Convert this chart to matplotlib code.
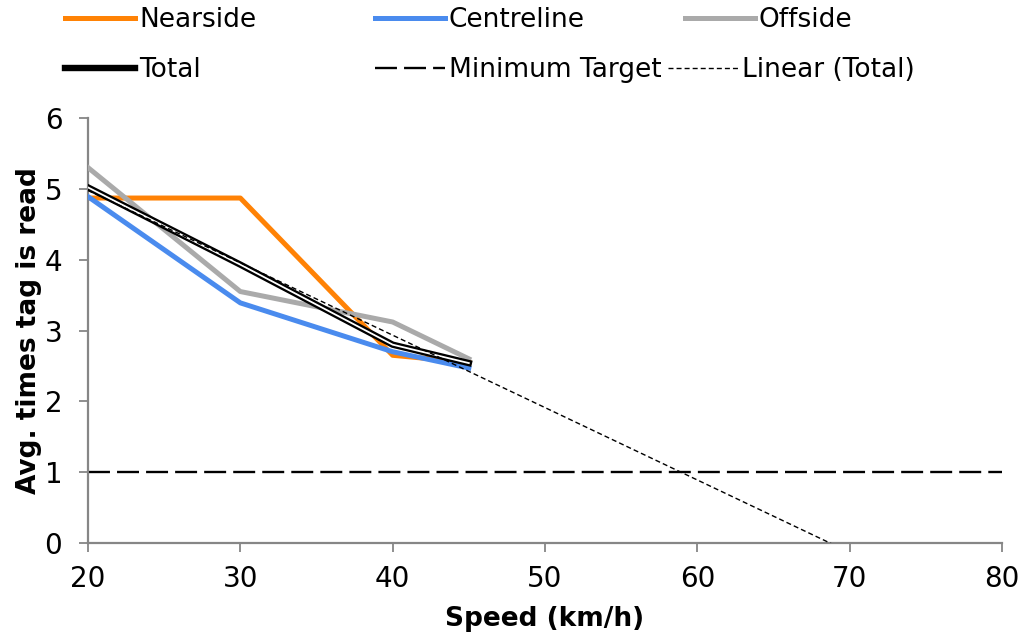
import numpy as np
import matplotlib
matplotlib.use('Agg')
import matplotlib.pyplot as plt
import matplotlib.patheffects as pe
from matplotlib.lines import Line2D

# Data
speeds = [20, 30, 40, 45]
nearside = [4.87, 4.87, 2.65, 2.55]
centreline = [4.89, 3.39, 2.70, 2.47]
offside = [5.30, 3.55, 3.12, 2.60]
total = [5.02, 3.93, 2.80, 2.54]
minimum_target = 1

x_ticks = [20, 30, 40, 50, 60, 70, 80]
y_ticks = [0, 1, 2, 3, 4, 5, 6]

ORANGE = '#FF8205'
BLUE = '#4A8BEE'
GREY = '#AAAAAA'
AXIS_GREY = '#868686'
TARGET_DASH = (9.3, 3)
TREND_DASH = (3.6, 2.2)

plt.rcParams['font.family'] = ['DejaVu Sans']

fig = plt.figure(figsize=(10.24, 6.35), dpi=100)
ax = fig.add_axes([88 / 1024, 1 - 543 / 635, (1002 - 88) / 1024, (543 - 118) / 635])

# Series lines
ax.plot(speeds, nearside, color=ORANGE, lw=3.6, zorder=2)
ax.plot(speeds, centreline, color=BLUE, lw=3.6, zorder=3)
ax.plot(speeds, offside, color=GREY, lw=3.6, zorder=4)
ax.plot(speeds, total, color='white', lw=1.3, zorder=5,
        path_effects=[pe.Stroke(linewidth=4.6, foreground='black'), pe.Normal()])

# Minimum target and linear trend of the total
ax.axhline(minimum_target, color='black', lw=1.7, dashes=TARGET_DASH, zorder=1)
slope, intercept = np.polyfit(speeds, total, 1)
trend_x = np.array([20, 80])
ax.plot(trend_x, slope * trend_x + intercept, color='black', lw=1.0,
        dashes=TREND_DASH, zorder=6)

ax.set_xlim(20, 80)
ax.set_ylim(0, 6)
ax.set_xticks(x_ticks)
ax.set_yticks(y_ticks)
ax.tick_params(labelsize=20, colors=AXIS_GREY, labelcolor='black',
               length=6.5, width=1.3, direction='out')
ax.tick_params(axis='y', pad=12)
ax.tick_params(axis='x', pad=9)
for side in ['top', 'right']:
    ax.spines[side].set_visible(False)
for side in ['left', 'bottom']:
    ax.spines[side].set_color(AXIS_GREY)
    ax.spines[side].set_linewidth(1.6)

ax.set_xlabel('Speed (km/h)', fontsize=19, fontweight='bold')
ax.set_ylabel('Avg. times tag is read', fontsize=19, fontweight='bold')
ax.xaxis.set_label_coords(0.5, -0.148)
ax.yaxis.set_label_coords(-0.05, 0.5)

# Legend entries, laid out like the original
entries = [
    (Line2D([], [], color=ORANGE, lw=3.6), 'Nearside', 65, 20),
    (Line2D([], [], color=BLUE, lw=3.6), 'Centreline', 375, 20),
    (Line2D([], [], color=GREY, lw=3.6), 'Offside', 685, 20),
    (Line2D([], [], color='black', lw=4.6), 'Total', 65, 70),
    (Line2D([], [], color='black', lw=1.7, dashes=TARGET_DASH), 'Minimum Target', 375, 70),
    (Line2D([], [], color='black', lw=1.0, dashes=TREND_DASH), 'Linear (Total)', 668, 70),
]
for handle, label, lx, ly in entries:
    fig.legend([handle], [label], loc='center left',
               bbox_to_anchor=(lx / 1024, 1 - ly / 635),
               frameon=False, borderpad=0, borderaxespad=0,
               handlelength=2.65, handletextpad=0.15, fontsize=19)

fig.savefig('out.png', dpi=100)
